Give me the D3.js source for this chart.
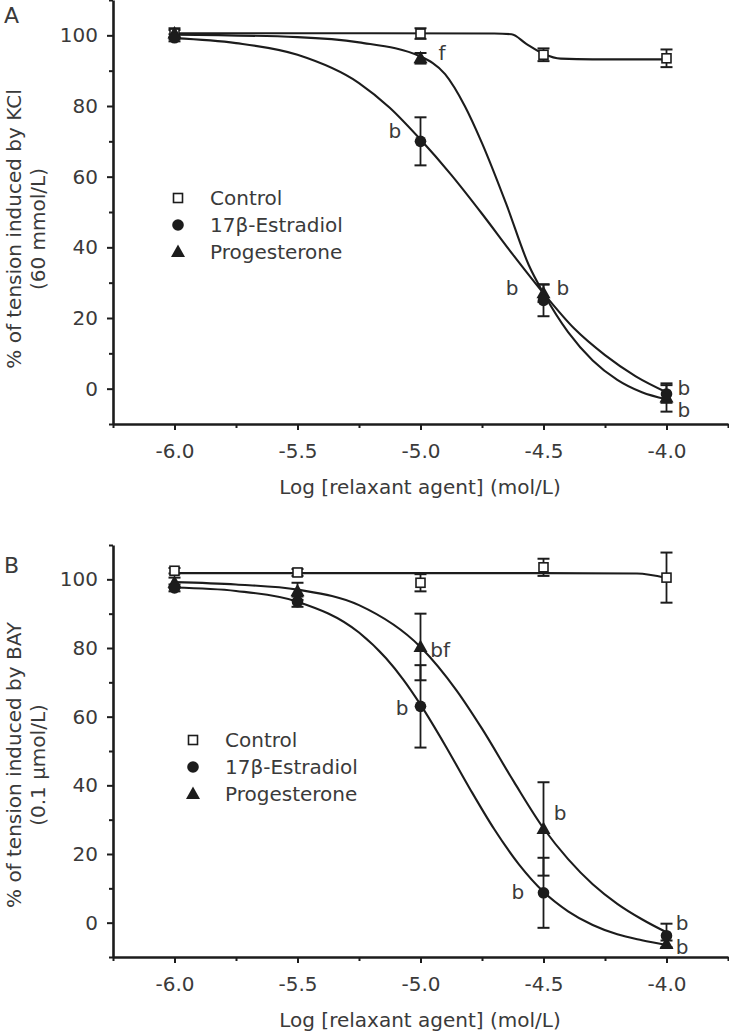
<!DOCTYPE html>
<html><head><meta charset="utf-8">
<script src="https://cdn.jsdelivr.net/npm/d3@7"></script>
<style>body{margin:0;background:#fff}svg{display:block}</style>
</head><body>
<svg id="chart" width="729" height="1031"></svg>
<script>
// ---------- shared ----------
const xTickValues = [-6.0, -5.5, -5.0, -4.5, -4.0];
const xMinorTicks = [-6.25, -5.75, -5.25, -4.75, -4.25, -3.75];
const yTickValues = [0, 20, 40, 60, 80, 100];
const yMinorTicks = [-10, 10, 30, 50, 70, 90, 110];
const seriesNames = ["Control", "17\u03b2-Estradiol", "Progesterone"];
const xTitle = "Log [relaxant agent] (mol/L)";

// ---------- panel A (KCl) ----------
const aDoses = [-6, -5, -4.5, -4];
const aControl = [100.5, 100.5, 94.5, 93.5];
const aControlErr = [1, 1.5, 1.8, 2.5];
const aEstradiol = [99.3, 70, 25, -1.5];
const aEstradiolErr = [1, 6.8, 4.5, 2.5];
const aProgesterone = [100.5, 93.5, 27, -2.5];
const aProgesteroneErr = [1.5, 1.5, 2.5, 4];
const aControlCurve = [[-6, 100.6], [-5.2, 100.6], [-4.7, 100.5], [-4.63, 100.3], [-4.57, 97.6], [-4.5, 94.8], [-4.43, 93.4], [-4.3, 93.2], [-4.0, 93.2]];
const aEstradiolCurve = [[-6, 99.2], [-5.75, 97.8], [-5.5, 94.5], [-5.25, 86.5], [-5.125, 79.5], [-5.0, 70.5], [-4.875, 60.5], [-4.75, 49.5], [-4.625, 38], [-4.5, 27], [-4.375, 17], [-4.25, 9.5], [-4.125, 3.5], [-4.0, -1]];
const aProgesteroneCurve = [[-6, 100.2], [-5.5, 99.5], [-5.25, 98], [-5.0, 94], [-4.9, 89], [-4.82, 80], [-4.75, 69.5], [-4.65, 52], [-4.56, 35], [-4.5, 27], [-4.4, 16], [-4.3, 8], [-4.2, 2.5], [-4.1, -1], [-4.0, -3]];
const aNotes = [["f", -4.913, 95], ["b", -5.104, 72.9], ["b", -4.628, 28.5], ["b", -4.421, 28.5], ["b", -3.929, 0.2], ["b", -3.929, -6.0]];

// ---------- panel B (BAY) ----------
const bDoses = [-6, -5.5, -5, -4.5, -4];
const bControl = [102.5, 102, 99, 103.5, 100.5];
const bControlErr = [0.8, 1, 2.5, 2.5, 7.3];
const bEstradiol = [97.5, 93.5, 63, 8.7, -3.8];
const bEstradiolErr = [1, 1.5, 12, 10.2, 3.5];
const bProgesterone = [99, 96.5, 80.3, 27.3, -6.2];
const bProgesteroneErr = [1.5, 2.5, 9.7, 13.6, 1];
const bControlCurve = [[-6, 101.8], [-5, 101.8], [-4.5, 101.8], [-4.12, 101.7], [-4.0, 100.4]];
const bEstradiolCurve = [[-6, 97.6], [-5.75, 96.6], [-5.5, 93.5], [-5.25, 84.5], [-5.14, 77], [-5.07, 70.8], [-5.0, 63.5], [-4.9, 51.7], [-4.8, 39.1], [-4.7, 27.2], [-4.6, 17], [-4.5, 9], [-4.4, 3.3], [-4.3, -0.7], [-4.2, -3.4], [-4.1, -5.1], [-4.0, -6.5]];
const bProgesteroneCurve = [[-6, 99.2], [-5.75, 98.5], [-5.5, 97], [-5.25, 92.5], [-5.0, 80.3], [-4.853, 67.6], [-4.75, 56.5], [-4.62, 41], [-4.5, 27.5], [-4.4, 18.5], [-4.3, 11.2], [-4.2, 5.5], [-4.1, 1.0], [-4.0, -2.8]];
const bNotes = [["b", -5.075, 62.5], ["bf", -4.92, 79.4], ["b", -4.433, 31.9], ["b", -4.604, 8.9], ["b", -3.937, -0.1], ["b", -3.937, -7.1]];

// ---------- drawing ----------
const FONT = "'DejaVu Sans', Verdana, sans-serif";
const INK = "#1c1c1c";
const TXT = "#3a3a3a";
const svg = d3.select("#chart");

function marker(g, shape, cx, cy) {
  if (shape === "square") {
    g.append("rect").attr("x", cx - 4.5).attr("y", cy - 4.5).attr("width", 9).attr("height", 9)
      .attr("fill", "#fff").attr("stroke", INK).attr("stroke-width", 1.6);
  } else if (shape === "circle") {
    g.append("circle").attr("cx", cx).attr("cy", cy).attr("r", 5.8).attr("fill", INK);
  } else {
    g.append("path").attr("d", `M${cx},${cy - 7.5}L${cx + 7},${cy + 5}L${cx - 7},${cy + 5}Z`).attr("fill", INK);
  }
}

function drawPanel(p) {
  const x = d3.scaleLinear().domain([-6.25, -3.75]).range([113, 728]);
  const y = d3.scaleLinear().domain([-10, 110]).range([p.bottom, p.top]);
  const g = svg.append("g");

  // axes
  g.append("g").attr("transform", `translate(0,${p.bottom})`)
    .call(d3.axisBottom(x).tickValues(xTickValues).tickFormat(d => d.toFixed(1)).tickSize(6).tickSizeOuter(0).tickPadding(14));
  g.append("g").attr("transform", `translate(0,${p.bottom})`)
    .call(d3.axisBottom(x).tickValues(xMinorTicks).tickFormat("").tickSize(4).tickSizeOuter(0))
    .select(".domain").remove();
  g.append("g").attr("transform", "translate(113,0)")
    .call(d3.axisLeft(y).tickValues(yTickValues).tickSize(6).tickSizeOuter(0).tickPadding(9));
  g.append("g").attr("transform", "translate(113,0)")
    .call(d3.axisLeft(y).tickValues(yMinorTicks).tickFormat("").tickSize(4).tickSizeOuter(0))
    .select(".domain").remove();
  g.selectAll(".domain").attr("stroke", INK).attr("stroke-width", 2.6);
  g.selectAll(".tick line").attr("stroke", INK).attr("stroke-width", 2);
  g.selectAll(".tick text").attr("fill", TXT).style("font-family", FONT).style("font-size", "20px");

  // axis titles
  g.append("text").attr("x", 420).attr("y", p.bottom + 70).attr("text-anchor", "middle")
    .attr("fill", TXT).style("font-family", FONT).style("font-size", "20px").text(xTitle);
  const yt = g.append("g").attr("transform", `translate(0,${p.titleY}) rotate(-90)`);
  yt.append("text").attr("x", 0).attr("y", 21).attr("text-anchor", "middle")
    .attr("fill", TXT).style("font-family", FONT).style("font-size", "20px").text(p.yTitle1);
  yt.append("text").attr("x", 0).attr("y", 45).attr("text-anchor", "middle")
    .attr("fill", TXT).style("font-family", FONT).style("font-size", "20px").text(p.yTitle2);

  // panel letter
  g.append("text").attr("x", 4).attr("y", p.letterY).attr("fill", TXT)
    .style("font-family", FONT).style("font-size", "22px").text(p.letter);

  // curves
  const line = d3.line().x(d => x(d[0])).y(d => y(d[1])).curve(d3.curveMonotoneX);
  p.series.forEach(s => {
    g.append("path").attr("d", line(s.curve)).attr("fill", "none").attr("stroke", INK).attr("stroke-width", 2.1);
  });

  // error bars
  p.series.forEach(s => {
    s.mean.forEach((m, i) => {
      const cx = x(p.doses[i]), y1 = y(m + s.err[i]), y2 = y(m - s.err[i]);
      g.append("line").attr("x1", cx).attr("x2", cx).attr("y1", y1).attr("y2", y2).attr("stroke", INK).attr("stroke-width", 1.8);
      [y1, y2].forEach(yy => g.append("line").attr("x1", cx - 6).attr("x2", cx + 6).attr("y1", yy).attr("y2", yy)
        .attr("stroke", INK).attr("stroke-width", 2));
    });
  });

  // markers
  p.series.forEach(s => {
    s.mean.forEach((m, i) => marker(g, s.shape, x(p.doses[i]), y(m)));
  });

  // significance notes
  p.notes.forEach(n => {
    g.append("text").attr("x", x(n[1])).attr("y", y(n[2])).attr("text-anchor", "middle").attr("dy", "0.36em")
      .attr("fill", TXT).style("font-family", FONT).style("font-size", "20px").text(n[0]);
  });

  // legend
  const shapes = ["square", "circle", "triangle"];
  seriesNames.forEach((name, i) => {
    const ly = p.legendY + i * 27;
    marker(g, shapes[i], p.legendX, ly);
    g.append("text").attr("x", p.legendX + 32).attr("y", ly).attr("dy", "0.36em")
      .attr("fill", TXT).style("font-family", FONT).style("font-size", "20px").text(name);
  });
}

drawPanel({
  top: 0, bottom: 424, letter: "A", letterY: 23, titleY: 229,
  yTitle1: "% of tension induced by KCl", yTitle2: "(60 mmol/L)",
  legendX: 178, legendY: 198,
  doses: aDoses, notes: aNotes,
  series: [
    {shape: "square", mean: aControl, err: aControlErr, curve: aControlCurve},
    {shape: "triangle", mean: aProgesterone, err: aProgesteroneErr, curve: aProgesteroneCurve},
    {shape: "circle", mean: aEstradiol, err: aEstradiolErr, curve: aEstradiolCurve}
  ]
});
drawPanel({
  top: 545, bottom: 957, letter: "B", letterY: 573, titleY: 765,
  yTitle1: "% of tension induced by BAY", yTitle2: "(0.1 \u03bcmol/L)",
  legendX: 193, legendY: 740,
  doses: bDoses, notes: bNotes,
  series: [
    {shape: "square", mean: bControl, err: bControlErr, curve: bControlCurve},
    {shape: "triangle", mean: bProgesterone, err: bProgesteroneErr, curve: bProgesteroneCurve},
    {shape: "circle", mean: bEstradiol, err: bEstradiolErr, curve: bEstradiolCurve}
  ]
});
</script>
</body></html>
